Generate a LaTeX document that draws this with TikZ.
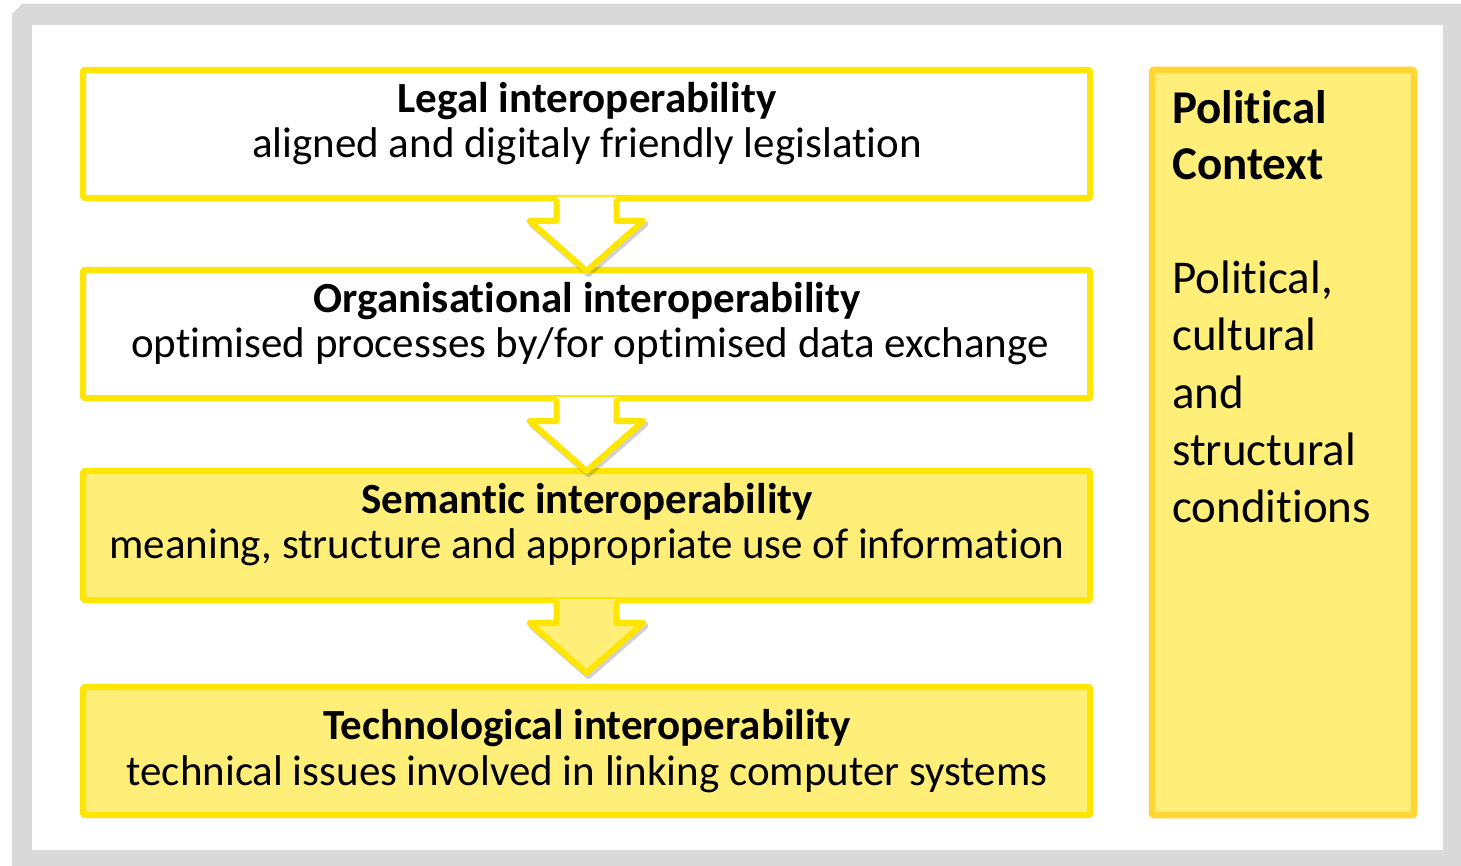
\documentclass[tikz,border=0pt]{standalone}
\usepackage{fontspec}
\setmainfont{Carlito}[Ligatures={NoCommon}, RawFeature={-liga;-clig;-calt;-dlig}]
\usetikzlibrary{calc,shadows}
\newcommand\xti{t\kern0pt i}
\definecolor{framegray}{HTML}{D9D9D9}
\definecolor{ybord}{HTML}{FFE600}
\definecolor{yfill}{HTML}{FFEF78}
\definecolor{pbord}{HTML}{FFD633}
\tikzset{
  boxshadow/.style={drop shadow={shadow xshift=2pt, shadow yshift=-3pt, opacity=0.3, fill=black!60}},
  layerbox/.style={draw=ybord, line width=6pt, inner sep=0pt, minimum width=1007pt,
    minimum height=128pt, rounded corners=1.5pt, boxshadow},
  polbox/.style={draw=pbord, fill=yfill, line width=6.5pt, inner sep=0pt, minimum width=262pt,
    minimum height=745pt, rounded corners=2pt, boxshadow},
  headtxt/.style={anchor=base, inner sep=0pt, font=\fontsize{43}{45}\selectfont\bfseries},
  subtxt/.style={anchor=base, inner sep=0pt, font=\fontsize{43}{45}\selectfont},
  polhead/.style={anchor=base west, inner sep=0pt, font=\fontsize{47}{56}\selectfont\bfseries},
  poltxt/.style={anchor=base west, inner sep=0pt, font=\fontsize{47}{57}\selectfont},
  arrowline/.style={draw=ybord, line width=6pt, line join=round, line cap=round},
  arrowshade/.style={draw=black, opacity=0.18, line width=6pt, line join=round, line cap=round}
}
\newcommand\blockarrow[2]{%
  \draw[arrowshade] ($(#1.south)+(-28,2)$) -- ($(#1.south)+(-28,23)$) -- ($(#1.south)+(-55,23)$) --
    ($(#1.south)+(2,73)$) -- ($(#1.south)+(59,23)$) -- ($(#1.south)+(32,23)$);
  \fill[#2] ($(#1.south)+(-30,-4)$) -- ($(#1.south)+(-30,20)$) -- ($(#1.south)+(-57,20)$) --
    ($(#1.south)+(0,70)$) -- ($(#1.south)+(57,20)$) -- ($(#1.south)+(30,20)$) --
    ($(#1.south)+(30,-4)$) -- cycle;
  \draw[arrowline] ($(#1.south)+(-30,0)$) -- ($(#1.south)+(-30,20)$) -- ($(#1.south)+(-57,20)$) --
    ($(#1.south)+(0,70)$) -- ($(#1.south)+(57,20)$) -- ($(#1.south)+(30,20)$) -- ($(#1.south)+(30,0)$);
}
\begin{document}
\begin{tikzpicture}[x=1pt, y=-1pt]
\useasboundingbox (0,0) rectangle (1461,866);
\fill[white] (0,0) rectangle (1461,866);
\fill[framegray] (12,14) -- (22,4) -- (1461,4) -- (1461,866) -- (12,866) -- cycle;
\fill[white] (32,25) rectangle (1443,850);

\node[layerbox, fill=white] (legal) at (586.5,134) {};
\node[layerbox, fill=white] (org) at (586.5,334) {};
\node[layerbox, fill=yfill, minimum height=129pt] (sem) at (586.5,535.5) {};
\node[layerbox, fill=yfill] (tech) at (586.5,751) {};
\node[polbox] (pol) at (1283,442.5) {};

\blockarrow{legal}{white}
\blockarrow{org}{white}
\blockarrow{sem}{yfill}

\node[headtxt] (legalH) at (587,113) {Legal interoperability};
\node[subtxt] (legalS) at (587,158) {aligned and digitaly friendly legisla\xti on};
\node[headtxt] (orgH) at (587,313) {Organisa\xti onal interoperability};
\node[subtxt] (orgS) at (590,358) {op\xti mised processes by/for op\xti mised data exchange};
\node[headtxt] (semH) at (587,513) {Seman\xti c interoperability};
\node[subtxt] (semS) at (587,558) {meaning, structure and appropriate use of informa\xti on};
\node[headtxt] (techH) at (587,739) {Technological interoperability};
\node[subtxt] (techS) at (587,785) {technical issues involved in linking computer systems};

\node[polhead] (polH1) at (1172,124) {Poli\xti cal};
\node[polhead] (polH2) at (1172,180) {Context};
\node[poltxt] (polT1) at (1172,294) {Poli\xti cal,};
\node[poltxt] (polT2) at (1172,351) {cultural};
\node[poltxt] (polT3) at (1172,408) {and};
\node[poltxt] (polT4) at (1172,465) {structural};
\node[poltxt] (polT5) at (1172,522) {condi\xti ons};
\end{tikzpicture}
\end{document}
